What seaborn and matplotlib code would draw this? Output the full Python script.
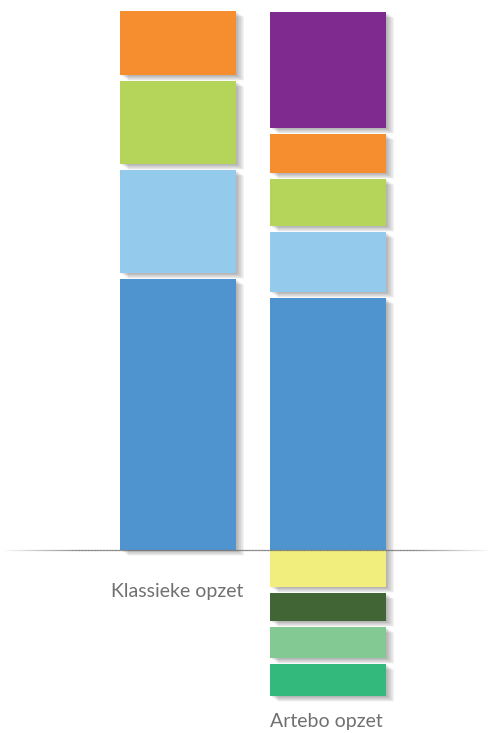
import numpy as np
import pandas as pd
import seaborn as sns
import matplotlib.pyplot as plt
from matplotlib import patheffects as pe

# bar names and segment heights (bottom to top above the line, top to bottom below it)
bars = ["Klassieke opzet", "Artebo opzet"]
klassiek_up = [271, 103, 83, 64]
klassiek_up_colors = ["#4F94CF", "#94CBEC", "#B5D55A", "#F68D2E"]
artebo_up = [252, 60, 47, 39, 116]
artebo_up_colors = ["#4F94CF", "#94CBEC", "#B5D55A", "#F68D2E", "#7F2A8F"]
artebo_down = [37, 28, 31, 32]
artebo_down_colors = ["#F2EE7E", "#426536", "#82C993", "#34B97D"]
gap = 6

rows = []
for name, heights, colors, sign in [
    (bars[0], klassiek_up, klassiek_up_colors, 1),
    (bars[1], artebo_up, artebo_up_colors, 1),
    (bars[1], artebo_down, artebo_down_colors, -1),
]:
    base = 0
    for h, c in zip(heights, colors):
        rows.append({"bar": name, "bottom": base, "height": sign * h, "color": c})
        base += sign * (h + gap)
segments = pd.DataFrame(rows)

sns.set_style("white")
fig = plt.figure(figsize=(4.92, 7.33), dpi=100)
ax = fig.add_axes([0, 0, 1, 1])

# soft drop shadow made of stacked faint offsets
shadow = [pe.SimplePatchShadow(offset=(d, -d * 0.7), shadow_rgbFace="black", alpha=0.022)
          for d in np.linspace(0.3, 6, 14)] + [pe.Normal()]

for _, seg in segments.iterrows():
    sns.barplot(x=[seg["bar"]], y=[seg["height"]], order=bars, bottom=seg["bottom"],
                color=seg["color"], saturation=1, width=116 / 150, ax=ax,
                linewidth=0, edgecolor="none", path_effects=shadow)

# baseline fading at the ends
xs = np.linspace(-178 / 150, (492 - 178) / 150, 160)
for i in range(len(xs) - 1):
    t = min(i, len(xs) - 2 - i) / 25
    ax.plot(xs[i:i + 2], [0.5, 0.5], color="#6a6a6a", lw=0.9,
            alpha=min(1, t) * 0.8, zorder=5, solid_capstyle="butt")

ax.text(65 / 150, -42, bars[0], ha="right", va="center",
        fontsize=14, color="#707070", family="Lato")
ax.text(1 - 58 / 150, -172, bars[1], ha="left", va="center",
        fontsize=14, color="#707070", family="Lato")

ax.set_xlim(-178 / 150, (492 - 178) / 150)
ax.set_ylim(-183, 550)
ax.set_axis_off()

fig.savefig("out.png", dpi=100, facecolor="white")
